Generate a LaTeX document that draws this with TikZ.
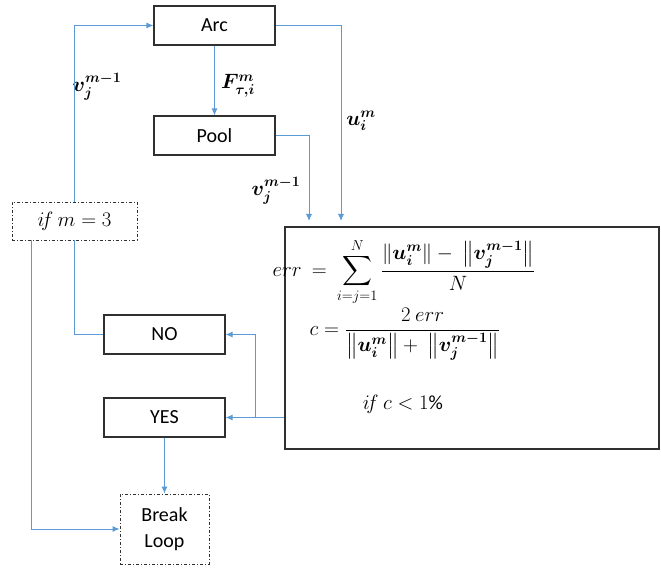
\documentclass[tikz,border=0pt]{standalone}
\usepackage{fontspec}
\setmainfont{Carlito}
\usepackage{amsmath}
\usepackage{bm}
\usetikzlibrary{arrows.meta}
\definecolor{linkblue}{HTML}{5B9BD5}
\definecolor{boxline}{HTML}{303030}
\tikzset{
  procbox/.style={draw=boxline, line width=1.1pt, minimum width=121pt, minimum height=39pt, inner sep=0pt, font=\fontsize{20}{24}\selectfont},
  dashbox/.style={draw=boxline, line width=0.9pt, dash pattern=on 3pt off 2pt on 1pt off 2pt, inner sep=0pt, font=\fontsize{20}{24}\selectfont},
  arr/.style={draw=linkblue, line width=0.9pt, -{Latex[length=7pt,width=6pt]}},
  plain/.style={draw=linkblue, line width=0.9pt},
  lbl/.style={font=\fontsize{20}{24}\selectfont, inner sep=0pt}
}
\begin{document}
\begin{tikzpicture}[x=1pt,y=-1pt]
\useasboundingbox (0,0) rectangle (661,569);
% boxes
\node[procbox] (arc) at (214.5,25.5) {Arc};
\node[procbox] (pool) at (214.5,135.5) {Pool};
\node[dashbox, minimum width=125pt, minimum height=38pt] (ifm) at (74.5,221) {$i\!f\ m=3$};
\node[procbox, minimum width=374pt, minimum height=222pt] (big) at (472,338) {};
\node[procbox] (no) at (164.5,334.5) {NO};
\node[procbox] (yes) at (164.5,417.5) {YES};
\node[dashbox, minimum width=89pt, minimum height=70pt, align=center] (brk) at (164.5,529) {Break\\[2pt]Loop};
% formulas
\node[lbl] (eqerr) at (404,272) {$\displaystyle err\ =\ \sum_{i=j=1}^{N}\frac{\|\bm{u_i^m}\| -\ \bigl\|\bm{v_j^{m-1}}\bigr\|}{N}$};
\node[lbl] (eqc) at (405,334) {$\displaystyle c=\frac{2\ err}{\bigl\|\bm{u_i^m}\bigr\| +\ \bigl\|\bm{v_j^{m-1}}\bigr\|}$};
\node[lbl] (eqif) at (403,404) {$i\!f\ c<1\%$};
% labels
\node[lbl] (lf) at (238,86) {$\bm{F_{\tau,i}^{m}}$};
\node[lbl] (lu) at (361,121) {$\bm{u_i^{m}}$};
\node[lbl] (lv1) at (97,87) {$\bm{v_j^{m-1}}$};
\node[lbl] (lv2) at (276,191) {$\bm{v_j^{m-1}}$};
% coordinates
\coordinate (uin) at (341,221);
\coordinate (vin) at (309,221);
\coordinate (split) at (255,417.5);
\coordinate (ifleft) at (31,240);
% connectors
\draw[arr] (arc.south) -- (pool.north);
\draw[arr] (arc.east) -| (uin);
\draw[arr] (pool.east) -| (vin);
\draw[arr] (ifm.north) |- (arc.west);
\draw[plain] (ifm.south) |- (no.west);
\draw[arr] (ifleft) |- (brk.west);
\draw[arr] (big.west |- yes.east) -- (yes.east);
\draw[arr] (split) |- (no.east);
\draw[arr] (yes.south) -- (brk.north);
\end{tikzpicture}
\end{document}
